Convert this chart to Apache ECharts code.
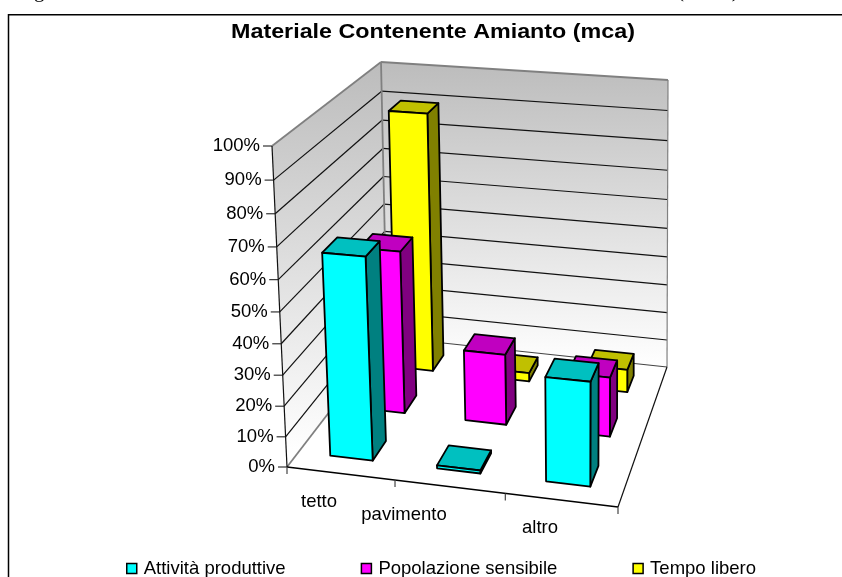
<!DOCTYPE html>
<html>
<head>
<meta charset="utf-8">
<style>
  html, body { margin: 0; padding: 0; background: #fff; }
  #chart { width: 842px; height: 577px; }
</style>
<script src="https://cdn.jsdelivr.net/npm/echarts@6/dist/echarts.min.js"></script>
</head>
<body>
<div id="chart"></div>
<script>
// values
const categories = ['tetto', 'pavimento', 'altro'];
const yTicks = [0, 10, 20, 30, 40, 50, 60, 70, 80, 90, 100];
const attivita = [65.5, 1, 33.5];
const popolazione = [55, 24, 20];
const tempoLibero = [90, 3, 8];

// front to back, as in the legend
const seriesDefs = [
  { name: 'Attività produttive', values: attivita, front: '#00ffff', top: '#00c0c0', side: '#008080' },
  { name: 'Popolazione sensibile', values: popolazione, front: '#ff00ff', top: '#c000c0', side: '#800080' },
  { name: 'Tempo libero', values: tempoLibero, front: '#ffff00', top: '#c0c000', side: '#808000' },
];

// 3d view: floor corners and wall top corners on screen
const FL = [287, 467], FR = [618, 507], BR = [667, 367], BL = [387, 337];
const FL_TOP = [272, 146], FR_TOP = [621, 173], BR_TOP = [668, 80], BL_TOP = [381, 62];
const Z_BEND = 0.07;
const BAR_WIDTH = 0.4;
const BAR_DEPTH = 0.4;
const SANS = '"Liberation Sans", Arial, sans-serif';
const FONT = '18.5px ' + SANS;
const CAT_LABEL_POS = [[319, 502], [404, 515], [540, 528]];

// unit square to screen quad
function quadMap(p0, p1, p2, p3) {
  const dx1 = p1[0] - p2[0], dx2 = p3[0] - p2[0], sx = p0[0] - p1[0] + p2[0] - p3[0];
  const dy1 = p1[1] - p2[1], dy2 = p3[1] - p2[1], sy = p0[1] - p1[1] + p2[1] - p3[1];
  const det = dx1 * dy2 - dx2 * dy1;
  const g = (sx * dy2 - dx2 * sy) / det;
  const h = (dx1 * sy - sx * dy1) / det;
  const a = p1[0] - p0[0] + g * p1[0], b = p3[0] - p0[0] + h * p3[0];
  const d = p1[1] - p0[1] + g * p1[1], e = p3[1] - p0[1] + h * p3[1];
  return (x, y) => {
    const w = g * x + h * y + 1;
    return [(a * x + b * y + p0[0]) / w, (d * x + e * y + p0[1]) / w];
  };
}
const floorMap = quadMap(FL, FR, BR, BL);
const topMap = quadMap(FL_TOP, FR_TOP, BR_TOP, BL_TOP);

// x along categories, y depth, z height, all 0..1
function project(x, y, z) {
  const t = z / (1 + Z_BEND * (1 - z));
  const p = floorMap(x, y), q = topMap(x, y);
  return [p[0] + (q[0] - p[0]) * t, p[1] + (q[1] - p[1]) * t];
}

function line(p, q, stroke, lineWidth) {
  return {
    type: 'line',
    shape: { x1: p[0], y1: p[1], x2: q[0], y2: q[1] },
    style: { stroke, lineWidth: lineWidth || 1.2 },
    silent: true,
  };
}

function poly(points, fill, stroke, lineWidth) {
  return {
    type: 'polygon',
    shape: { points },
    style: { fill, stroke, lineWidth, lineJoin: 'round' },
    silent: true,
  };
}

function wallGradient(stops) {
  return new echarts.graphic.LinearGradient(0, 0, 0, 1, stops);
}

function renderWalls(params, api) {
  const rect = params.coordSys;
  const children = [];
  const zOf = (t) => (rect.y + rect.height - api.coord([0, t])[1]) / rect.height;

  children.push(poly(
    [project(0, 1, 0), project(1, 1, 0), project(1, 1, 1), project(0, 1, 1)],
    wallGradient([{ offset: 0, color: '#bcbcbc' }, { offset: 1, color: '#ffffff' }]), 'none', 0
  ));
  children.push(poly(
    [project(0, 0, 0), project(0, 1, 0), project(0, 1, 1), project(0, 0, 1)],
    wallGradient([{ offset: 0, color: '#bcbcbc' }, { offset: 0.97, color: '#ffffff' }, { offset: 1, color: '#ffffff' }]), 'none', 0
  ));

  yTicks.forEach((t) => {
    const z = zOf(t);
    const p = project(0, 0, z);
    if (t > 0 && t < 100) {
      children.push(line(p, project(0, 1, z), '#111'));
      children.push(line(project(0, 1, z), project(1, 1, z), '#111'));
    }
    children.push(line([p[0] - 9, p[1]], p, '#333'));
    children.push({
      type: 'text',
      silent: true,
      style: {
        x: p[0] - 12, y: p[1], text: t + '%', font: FONT, fill: '#000',
        align: 'right', verticalAlign: 'middle',
      },
    });
  });

  // wall and floor edges
  children.push(line(project(0, 0, 1), project(0, 1, 1), '#808080', 1.8));
  children.push(line(project(0, 1, 1), project(1, 1, 1), '#808080', 1.8));
  children.push(line(project(0, 1, 1), project(0, 1, 0), '#808080', 1.8));
  children.push(line(project(1, 1, 1), project(1, 1, 0), '#808080', 1.2));
  children.push(line(project(0, 0, 0), project(0, 1, 0), '#808080', 1.8));
  children.push(line(project(0, 1, 0), project(1, 1, 0), '#444', 1.2));
  children.push(line(project(1, 0, 0), project(1, 1, 0), '#111', 1.2));
  children.push(line(project(0, 0, 1), project(0, 0, 0), '#111', 1.2));
  children.push(line(project(0, 0, 0), project(1, 0, 0), '#000', 1.4));

  // category ticks and labels
  [0, 1, 2, 3].forEach((k) => {
    const p = project(k / categories.length, 0, 0);
    children.push(line(p, [p[0], p[1] + 7], '#444'));
  });
  categories.forEach((name, k) => {
    children.push({
      type: 'text',
      silent: true,
      style: {
        x: CAT_LABEL_POS[k][0], y: CAT_LABEL_POS[k][1], text: name, font: FONT, fill: '#000',
        align: 'center', verticalAlign: 'middle',
      },
    });
  });
  return { type: 'group', children };
}

function barRenderer(def, depthIndex) {
  return function (params, api) {
    const rect = params.coordSys;
    const p = api.coord([api.value(0), api.value(1)]);
    const cell = api.size([1, 0])[0] / rect.width;
    const cx = (p[0] - rect.x) / rect.width;
    const z = (rect.y + rect.height - p[1]) / rect.height;
    const x0 = cx - cell * BAR_WIDTH / 2, x1 = cx + cell * BAR_WIDTH / 2;
    const cy = (depthIndex + 0.5) / seriesDefs.length;
    const dep = BAR_DEPTH / seriesDefs.length;
    const y0 = cy - dep / 2, y1 = cy + dep / 2;
    const lw = 1.8;
    return {
      type: 'group',
      children: [
        poly([project(x1, y0, 0), project(x1, y1, 0), project(x1, y1, z), project(x1, y0, z)], def.side, '#000', lw),
        poly([project(x0, y0, z), project(x1, y0, z), project(x1, y1, z), project(x0, y1, z)], def.top, '#000', lw),
        poly([project(x0, y0, 0), project(x1, y0, 0), project(x1, y0, z), project(x0, y0, z)], def.front, '#000', lw),
      ],
    };
  };
}

const barSeries = seriesDefs.map((def, depthIndex) => ({
  name: def.name,
  type: 'custom',
  renderItem: barRenderer(def, depthIndex),
  itemStyle: { color: def.front },
  encode: { x: 0, y: 1 },
  data: def.values.map((v, i) => [i, v]),
})).reverse();

const option = {
  animation: false,
  backgroundColor: '#fff',
  legend: {
    data: seriesDefs.map((d) => d.name),
    left: 126,
    top: 559,
    padding: 0,
    icon: 'rect',
    itemWidth: 10,
    itemHeight: 10,
    itemGap: 75,
    selectedMode: false,
    itemStyle: { borderColor: '#000', borderWidth: 1.5 },
    textStyle: { fontFamily: SANS, fontSize: 18.5, color: '#000', padding: [0, 0, 0, 2] },
  },
  grid: { left: FL[0], top: FL_TOP[1], width: FR[0] - FL[0], height: FL[1] - FL_TOP[1], show: false },
  xAxis: { type: 'category', data: categories, show: false },
  yAxis: { type: 'value', min: 0, max: 100, interval: 10, show: false },
  series: [
    { type: 'custom', renderItem: renderWalls, data: [[0, 0]], encode: { x: 0, y: 1 }, silent: true },
    ...barSeries,
  ],
  graphic: [
    {
      type: 'polyline',
      shape: { points: [[8.5, 577], [8.5, 14.8], [842, 14.8]] },
      style: { stroke: '#000', lineWidth: 1.5, fill: 'none' },
      silent: true,
    },
    {
      type: 'text', silent: true, x: 433, y: 32, scaleX: 1.165,
      style: {
        text: 'Materiale Contenente Amianto (mca)', font: 'bold 20px ' + SANS, fill: '#000',
        align: 'center', verticalAlign: 'middle',
      },
    },
    // bottom of the caption line that the screenshot cuts off above the chart
    {
      type: 'text', silent: true,
      style: { x: 34, y: 1.5, text: 'g', font: '21px "Liberation Serif", serif', fill: '#000', verticalAlign: 'bottom' },
    },
    {
      type: 'text', silent: true,
      style: { x: 677, y: 1.5, text: '(MCA)', font: '21px "Liberation Serif", serif', fill: '#000', verticalAlign: 'bottom' },
    },
  ],
};

const chart = echarts.init(document.getElementById('chart'), null, { renderer: 'canvas' });
chart.setOption(option);
</script>
</body>
</html>
